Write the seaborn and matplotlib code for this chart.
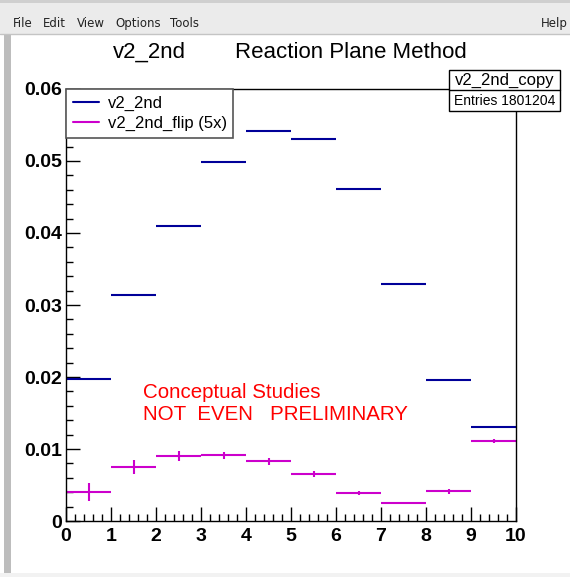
import numpy as np
import matplotlib
matplotlib.use("Agg")
import matplotlib.pyplot as plt
from matplotlib.patches import Rectangle
from matplotlib.lines import Line2D
import seaborn as sns

# ---- data ----
bin_edges = [0, 1, 2, 3, 4, 5, 6, 7, 8, 9, 10]
v2_2nd = [0.0197, 0.0314, 0.0410, 0.0498, 0.0541, 0.0530, 0.0461, 0.0329, 0.0196, 0.0130]
v2_2nd_err = [0.00012, 0.00012, 0.00012, 0.00012, 0.00012, 0.0001, 0.0001, 0.0001, 0.0001, 0.0001]
v2_flip = [0.0040, 0.0075, 0.0090, 0.0091, 0.0083, 0.0065, 0.0039, 0.0025, 0.0041, 0.0111]
v2_flip_err = [0.00125, 0.0010, 0.0007, 0.0005, 0.0005, 0.0004, 0.0003, 0.0002, 0.0003, 0.0003]
legend_labels = ["v2_2nd", "v2_2nd_flip (5x)"]
x_ticks = [0, 1, 2, 3, 4, 5, 6, 7, 8, 9, 10]
y_ticks = [0, 0.01, 0.02, 0.03, 0.04, 0.05, 0.06]
y_tick_labels = ["0", "0.01", "0.02", "0.03", "0.04", "0.05", "0.06"]

sns.set_theme(style="ticks")
plt.rcParams['font.family'] = ['Liberation Sans', 'DejaVu Sans']
plt.rcParams['text.color'] = 'black'
plt.rcParams['xtick.color'] = 'black'
plt.rcParams['ytick.color'] = 'black'
plt.rcParams['xtick.labelcolor'] = 'black'
plt.rcParams['ytick.labelcolor'] = 'black'

W, H = 570, 577
fig = plt.figure(figsize=(W / 100, H / 100), dpi=100)
fig.patch.set_facecolor("white")

def fx(px):
    return px / W

def fy(py):
    return 1 - py / H

# window chrome
fig.patches.append(Rectangle((0, fy(34)), 1, 34 / H, transform=fig.transFigure,
                             facecolor="#ebebeb", edgecolor="none", zorder=0))
fig.patches.append(Rectangle((0, fy(3)), 1, 3 / H, transform=fig.transFigure,
                             facecolor="#cfcfcf", edgecolor="none", zorder=0))
fig.add_artist(Line2D([0, 1], [fy(34), fy(34)], transform=fig.transFigure,
                      color="#c4c4c4", lw=1))
fig.patches.append(Rectangle((fx(4), 0), 7 / W, fy(34), transform=fig.transFigure,
                             facecolor="#bdbdbd", edgecolor="none", zorder=0))
fig.patches.append(Rectangle((0, 0), 1, 4 / H, transform=fig.transFigure,
                             facecolor="#f2f2f2", edgecolor="none", zorder=0))
menu_items = [("File", 13), ("Edit", 43), ("View", 77), ("Options", 115), ("Tools", 170)]
for name, px in menu_items:
    fig.text(fx(px), fy(27), name, fontsize=8.5, family="DejaVu Sans", color="#222222",
             ha="left", va="baseline")
fig.text(fx(568), fy(27), "Help", fontsize=8.5, family="DejaVu Sans", color="#222222",
         ha="right", va="baseline")

# axes
ax = fig.add_axes([fx(66), fy(521), fx(516) - fx(66), fy(89) - fy(521)])
centers = [(bin_edges[i] + bin_edges[i + 1]) / 2 for i in range(len(bin_edges) - 1)]
half = [(bin_edges[i + 1] - bin_edges[i]) / 2 for i in range(len(bin_edges) - 1)]

blue = "#000099"
mag = "#cc00cc"
ax.errorbar(centers, v2_2nd, xerr=half, yerr=v2_2nd_err, fmt="none",
            ecolor=blue, elinewidth=1.5, capsize=0)
ax.errorbar(centers, v2_flip, xerr=half, yerr=v2_flip_err, fmt="none",
            ecolor=mag, elinewidth=1.5, capsize=0)

ax.set_xlim(0, 10)
ax.set_ylim(0, 0.06)
ax.set_xticks(x_ticks)
ax.set_xticklabels([str(t) for t in x_ticks])
ax.set_yticks(y_ticks)
ax.set_yticklabels(y_tick_labels)
ax.set_xticks(np.arange(0, 10.01, 0.2), minor=True)
ax.set_yticks(np.arange(0, 0.0601, 0.002), minor=True)
ax.tick_params(axis="both", which="major", direction="in", length=10, width=1,
               labelsize=14, color="black", labelcolor="black")
ax.tick_params(axis="both", which="minor", direction="in", length=5, width=1, color="black")
ax.tick_params(axis="x", which="major", pad=5)
ax.tick_params(axis="y", which="major", pad=3)
for lab in ax.get_xticklabels() + ax.get_yticklabels():
    lab.set_fontweight("bold")
    lab.set_color("black")
for s in ax.spines.values():
    s.set_visible(True)
    s.set_color("black")
    s.set_linewidth(1)

# legend
handles = [Line2D([], [], color=blue, lw=1.5), Line2D([], [], color=mag, lw=1.5)]
leg = ax.legend(handles, legend_labels, loc="upper left", bbox_to_anchor=(0, 1),
                borderaxespad=0, fancybox=False, framealpha=1, edgecolor="#555555",
                fontsize=12, handlelength=1.6, handletextpad=0.5, borderpad=0.4,
                labelspacing=0.3)
leg.get_frame().set_linewidth(1.2)

# title
fig.text(fx(113), fy(58), "v2_2nd", fontsize=16, ha="left", va="baseline")
fig.text(fx(235), fy(58), "Reaction Plane Method", fontsize=16, ha="left", va="baseline")

# stats box
fig.patches.append(Rectangle((fx(449), fy(111)), 111 / W, 41 / H, transform=fig.transFigure,
                             facecolor="white", edgecolor="black", lw=1, zorder=5))
fig.add_artist(Line2D([fx(449), fx(560)], [fy(90), fy(90)], transform=fig.transFigure,
                      color="black", lw=1, zorder=6))
fig.text(fx(505), fy(80), "v2_2nd_copy", fontsize=12, ha="center", va="center", zorder=7)
fig.text(fx(505), fy(101), "Entries 1801204", fontsize=10, ha="center", va="center", zorder=7)

# red annotation
ax.text(fx(143), fy(393), "Conceptual Studies", transform=fig.transFigure, fontsize=14.8,
        color="red", ha="left", va="center")
ax.text(fx(143), fy(415), "NOT  EVEN   PRELIMINARY", transform=fig.transFigure, fontsize=14.8,
        color="red", ha="left", va="center")

fig.savefig("out.png", dpi=100)
